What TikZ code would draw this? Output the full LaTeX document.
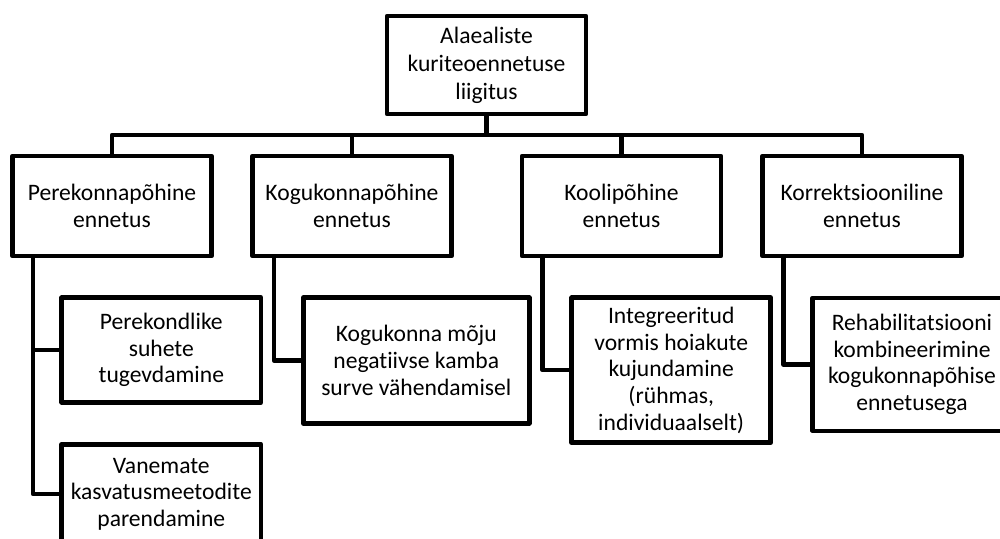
\documentclass[tikz,border=0pt]{standalone}
\usepackage{fontspec}
\setmainfont{Carlito}[Ligatures={NoCommon}]
\begin{document}
\begin{tikzpicture}[x=0.75pt,y=-0.75pt,
  box/.style={draw, line width=3.4pt, line join=round, inner sep=0pt, align=center,
    font=\fontsize{17.7pt}{20pt}\selectfont},
  conn/.style={line width=3.4pt, line join=round}]
\clip (0,0) rectangle (1000,539);
\fill[white] (0,0) rectangle (1000,539);
% top
\node[box, minimum width=149.25pt, minimum height=73.5pt,
  font=\fontsize{17.7pt}{21pt}\selectfont] (top) at (486.5,65) {Alaealiste\\kuriteoennetuse\\liigitus};
% row
\node[box, minimum width=149.25pt, minimum height=75pt] (r1) at (112,206) {Perekonnapõhine\\ennetus};
\node[box, minimum width=149.25pt, minimum height=75pt] (r2) at (352,206) {Kogukonnapõhine\\ennetus};
\node[box, minimum width=149.25pt, minimum height=75pt] (r3) at (621.5,206) {Koolipõhine\\ennetus};
\node[box, minimum width=149.25pt, minimum height=75pt] (r4) at (862,206) {Korrektsiooniline\\ennetus};
% children
\node[box, minimum width=149.5pt, minimum height=78.5pt] (k1) at (161.3,350) {Perekondlike\\suhete\\tugevdamine};
\node[box, minimum width=149.5pt, minimum height=74.5pt] (k2) at (161.3,494) {Vanemate\\kasvatusmeetodite\\parendamine};
\node[box, minimum width=169.5pt, minimum height=94.2pt] (k3) at (416.3,360.5) {Kogukonna mõju\\negatiivse kamba\\surve vähendamisel};
\node[box, minimum width=149.25pt, minimum height=108.75pt] (k4) at (671.2,370.2) {Integreeritud\\vormis hoiakute\\kujundamine\\(rühmas,\\individuaalselt)};
\node[box, minimum width=149pt, minimum height=99.75pt] (k5) at (912,364.3) {Rehabilitatsiooni\\kombineerimine\\kogukonnapõhise\\ennetusega};
% connectors
\coordinate (bar) at (0,135);
\foreach \r in {r1,r2,r3,r4}
  \draw[conn] (\r.north) -- (\r.north |- bar) -| (top.south);
\coordinate (s1) at (33,0);
\coordinate (s2) at (274,0);
\coordinate (s3) at (542.7,0);
\coordinate (s4) at (783.3,0);
\draw[conn] (r1.south -| s1) |- (k1.west);
\draw[conn] (r1.south -| s1) |- (k2.west);
\draw[conn] (r2.south -| s2) |- (k3.west);
\draw[conn] (r3.south -| s3) |- (k4.west);
\draw[conn] (r4.south -| s4) |- (k5.west);
\end{tikzpicture}
\end{document}
